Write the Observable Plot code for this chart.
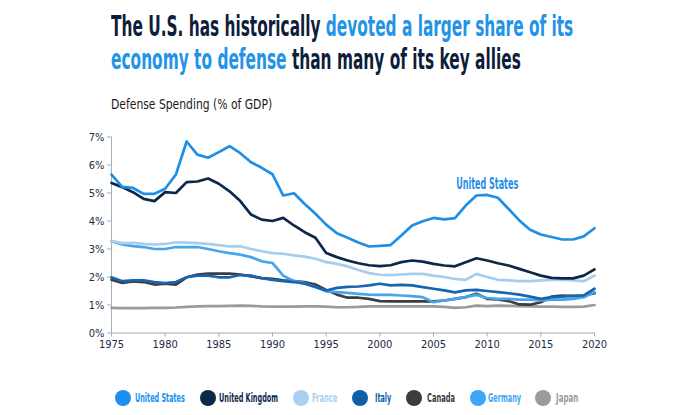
<!DOCTYPE html>
<html><head><meta charset="utf-8">
<script src="https://cdn.jsdelivr.net/npm/d3@7"></script>
<script src="https://cdn.jsdelivr.net/npm/@observablehq/plot@0.6"></script>
<style>
body{margin:0;background:#fff;}
#wrap{position:relative;width:700px;height:415px;overflow:hidden;font-family:"Liberation Sans Narrow","DejaVu Sans Condensed","Roboto Condensed","Liberation Sans",sans-serif;}
.tl{position:absolute;left:111px;font-weight:bold;font-size:29px;line-height:30px;white-space:nowrap;transform-origin:0 0;color:#0e1d3a;}
.hl{color:#2393e6;}
#sub{position:absolute;left:111px;top:97px;font-size:14px;line-height:14px;white-space:nowrap;transform-origin:0 0;color:#1a1a1a;}
#chart{position:absolute;left:0;top:120px;}
.dot{position:absolute;width:16px;height:16px;border-radius:50%;top:390px;}
.lab{position:absolute;top:391px;font-size:12.5px;line-height:14px;font-weight:bold;white-space:nowrap;transform-origin:0 0;}
</style></head>
<body><div id="wrap">
<div class="tl" id="t1" style="top:11px">The U.S. has historically <span class="hl">devoted a larger share of its</span></div>
<div class="tl" id="t2" style="top:44px"><span class="hl">economy to defense</span> than many of its key allies</div>
<div id="sub">Defense Spending (% of GDP)</div>
<div id="chart"></div>
<div id="legend"></div>
</div>
<script>
const years = d3.range(1975, 2021);
const seriesNames = ["United States","United Kingdom","France","Italy","Canada","Germany","Japan"];
const seriesColors = ["#1e8fe6","#0c2848","#a6cdee","#1565b0","#3d3d3d","#45a6ee","#9a9a9a"];
const legendColors = ["#1a8ff0","#0b2a4a","#a9d0f0","#0d5fa8","#3c3c3c","#40a5f5","#9b9b9b"];
const unitedStates = [5.66,5.22,5.18,4.97,4.97,5.15,5.66,6.84,6.37,6.26,
  6.46,6.67,6.42,6.10,5.90,5.67,4.91,4.99,4.61,4.26,
  3.87,3.56,3.40,3.23,3.09,3.11,3.14,3.48,3.84,3.99,
  4.11,4.06,4.10,4.55,4.91,4.93,4.83,4.43,4.02,3.69,
  3.52,3.43,3.34,3.34,3.45,3.74];
const unitedKingdom = [5.36,5.21,5.03,4.79,4.71,5.03,5.00,5.39,5.41,5.52,
  5.33,5.06,4.71,4.23,4.05,4.00,4.11,3.84,3.60,3.40,
  2.86,2.71,2.59,2.49,2.42,2.39,2.42,2.53,2.59,2.55,
  2.47,2.41,2.38,2.53,2.67,2.59,2.49,2.41,2.29,2.17,
  2.05,1.97,1.95,1.95,2.05,2.27];
const france = [3.28,3.21,3.22,3.18,3.16,3.18,3.24,3.23,3.21,3.18,
  3.14,3.09,3.10,3.00,2.92,2.85,2.83,2.77,2.73,2.65,
  2.53,2.47,2.38,2.25,2.14,2.08,2.07,2.09,2.11,2.11,
  2.05,2.00,1.93,1.90,2.11,2.00,1.90,1.88,1.85,1.85,
  1.88,1.90,1.90,1.88,1.85,2.05];
const italy = [1.99,1.85,1.88,1.88,1.82,1.78,1.82,1.99,2.05,2.05,
  1.99,1.99,2.07,2.05,1.96,1.90,1.85,1.82,1.76,1.64,
  1.52,1.61,1.65,1.66,1.70,1.76,1.70,1.72,1.70,1.64,
  1.58,1.52,1.45,1.52,1.54,1.50,1.46,1.42,1.37,1.30,
  1.22,1.28,1.30,1.33,1.34,1.58];
const canada = [1.90,1.79,1.84,1.82,1.73,1.76,1.73,1.99,2.09,2.12,
  2.12,2.12,2.09,2.02,1.96,1.93,1.88,1.85,1.82,1.73,
  1.54,1.37,1.26,1.26,1.22,1.14,1.13,1.13,1.13,1.13,
  1.13,1.16,1.22,1.28,1.40,1.22,1.20,1.14,1.02,1.01,
  1.10,1.30,1.34,1.32,1.34,1.42];
const germany = [3.28,3.16,3.10,3.07,3.00,3.00,3.07,3.07,3.07,3.00,
  2.92,2.85,2.80,2.71,2.56,2.50,2.05,1.85,1.78,1.64,
  1.49,1.46,1.43,1.40,1.37,1.36,1.36,1.34,1.32,1.28,
  1.10,1.16,1.22,1.28,1.36,1.25,1.22,1.22,1.19,1.19,
  1.16,1.19,1.19,1.22,1.28,1.46];
const japan = [0.90,0.89,0.89,0.89,0.90,0.90,0.91,0.93,0.95,0.96,
  0.96,0.97,0.98,0.97,0.95,0.94,0.94,0.94,0.95,0.95,
  0.94,0.92,0.92,0.93,0.95,0.95,0.95,0.95,0.95,0.95,
  0.95,0.93,0.90,0.92,0.98,0.96,0.98,0.97,0.96,0.95,
  0.94,0.94,0.93,0.93,0.94,1.00];
const xTicks = [1975,1980,1985,1990,1995,2000,2005,2010,2015,2020];
const yTicks = [0,1,2,3,4,5,6,7];
const labelText = [{name:"United States", year:2010, value:5.34}];

const allValues = [unitedStates,unitedKingdom,france,italy,canada,germany,japan];
const data = [];
allValues.forEach((vals,i)=>vals.forEach((v,j)=>data.push({country:seriesNames[i], year:years[j], value:v})));
const drawOrder = ["Japan","Canada","Germany","Italy","France","United Kingdom","United States"];

const font = '"Liberation Sans Narrow","DejaVu Sans Condensed","Roboto Condensed","Liberation Sans",sans-serif';
const plot = Plot.plot({
  width: 700, height: 240,
  marginLeft: 111, marginRight: 106, marginTop: 16.5, marginBottom: 27.5,
  style: {fontFamily: font, fontSize: "11px", color: "#1c2b45", background: "transparent"},
  x: {domain: [1975, 2020], label: null},
  y: {domain: [0, 7], label: null},
  color: {domain: seriesNames, range: seriesColors},
  marks: [
    Plot.ruleX([1975], {stroke: "#9fb0c2", strokeWidth: 1}),
    Plot.ruleY([0], {stroke: "#9fb0c2", strokeWidth: 1}),
    Plot.axisY({ticks: yTicks, tickFormat: d => d + "%", tickSize: 4, tickPadding: 3, stroke: "#9fb0c2", fill: "#1c2b45"}),
    Plot.axisX({ticks: xTicks, tickFormat: d => String(d), tickSize: 4, tickPadding: 3, stroke: "#9fb0c2", fill: "#1c2b45"}),
    ...drawOrder.map(name => Plot.line(data.filter(d => d.country === name), {
      x: "year", y: "value", stroke: "country", strokeWidth: 2.7, strokeLinejoin: "round", strokeLinecap: "round"
    })),
    Plot.text(labelText, {x: "year", y: "value", text: "name", fill: seriesColors[0], fontSize: 16, fontWeight: "bold", textAnchor: "middle"})
  ]
});
document.getElementById("chart").appendChild(plot);

// squeeze title text to reference widths (condensed typeface)
function fit(id, w){const el=document.getElementById(id);const cw=el.scrollWidth;el.style.transform=`scale(${w/cw},1)`;}
fit("t1", 462); fit("t2", 410); fit("sub", 161);
d3.select(plot).selectAll("text").filter(function(){return this.textContent==="United States";})
  .attr("textLength", 62).attr("lengthAdjust","spacingAndGlyphs");

// legend
const legendDotX = [123,208,301,360,414,478,543];
const legendLabX = [135,219,312,375,427,488,556];
const legendLabW = [50,59,25,16,28,33,22];
const lg = document.getElementById("legend");
seriesNames.forEach((n,i)=>{
  const dot=document.createElement("div");dot.className="dot";
  dot.style.left=(legendDotX[i]-8)+"px";dot.style.background=legendColors[i];
  lg.appendChild(dot);
  const lab=document.createElement("div");lab.className="lab";
  lab.style.left=legendLabX[i]+"px";lab.style.color=legendColors[i];lab.textContent=n;
  lg.appendChild(lab);
  lab.style.transform=`scale(${legendLabW[i]/lab.scrollWidth},1)`;
});
</script>
</body></html>
